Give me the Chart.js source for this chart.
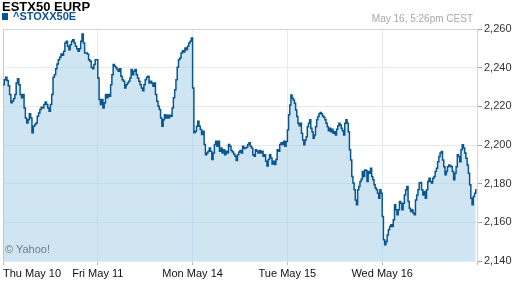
<!DOCTYPE html>
<html>
<head>
<meta charset="utf-8">
<script src="https://cdn.jsdelivr.net/npm/chart.js@4.4.0/dist/chart.umd.min.js"></script>
<style>
  html, body { margin: 0; padding: 0; background: #fff; }
  #wrap { position: relative; width: 512px; height: 288px; font-family: Arial, "Liberation Sans", sans-serif; }
  #chart { position: absolute; left: 0; top: 0; }
  .txt { position: absolute; white-space: nowrap; }
  #title { left: 2px; top: 0; font: bold 13px/13px Arial, "Liberation Sans", sans-serif; color: #000; }
  #swatch { position: absolute; left: 2px; top: 13px; width: 6px; height: 7px; background: #0b5394; }
  #symbol { left: 13px; top: 11px; font: bold 11px/11px Arial, "Liberation Sans", sans-serif; color: #0b5394; }
  #stamp { right: 39px; top: 14px; font: 10px/10px Arial, "Liberation Sans", sans-serif; color: #a8a8a8; }
  #credit { left: 5px; top: 244px; font: 11px/11px Arial, "Liberation Sans", sans-serif; color: #7a7a7a; }
</style>
</head>
<body>
<div id="wrap">
  <canvas id="chart" width="512" height="288"></canvas>
  <div class="txt" id="title">ESTX50 EURP</div>
  <div id="swatch"></div>
  <div class="txt" id="symbol">^STOXX50E</div>
  <div class="txt" id="stamp">May 16, 5:26pm CEST</div>
  <div class="txt" id="credit">© Yahoo!</div>
</div>
<script>
// ===== Data =====

const dayLabels = ['Thu May 10', 'Fri May 11', 'Mon May 14', 'Tue May 15', 'Wed May 16'];
const yMin = 2140;
const yMax = 2260;
const yStep = 20;

// Intraday index level, one array per session
const thuPrices = [
    2231.2, 2233.8, 2235.0, 2233.3, 2230.6, 2226.1, 2221.8, 2222.8, 2224.0, 2226.1,
    2232.1, 2234.3, 2231.2, 2226.1, 2224.4, 2226.1, 2219.2, 2214.0, 2211.4, 2213.1,
    2216.1, 2214.0, 2206.3, 2209.7, 2210.6, 2211.4, 2214.9, 2216.6, 2218.3, 2219.5,
    2219.2, 2220.9, 2222.3, 2220.9, 2219.2, 2217.5, 2220.9, 2226.1, 2235.0, 2236.4,
    2239.5, 2241.9, 2244.1, 2245.4, 2247.1, 2246.4, 2248.5, 2252.8, 2253.7, 2251.1,
    2249.3, 2251.9, 2253.7, 2254.5, 2252.8, 2251.1, 2249.8, 2248.5, 2249.8, 2253.7,
    2257.4, 2252.8, 2247.6, 2247.6, 2247.1, 2244.1, 2243.3, 2240.2, 2239.5, 2241.6,
    2244.1, 2244.1
];
const friPrices = [
    2234.7, 2223.5, 2220.9, 2223.5, 2219.2, 2221.8, 2226.1, 2224.4, 2226.1, 2225.2,
    2231.2, 2236.4, 2241.6, 2240.7, 2239.9, 2239.0, 2238.2, 2239.5, 2235.6, 2233.8,
    2233.0, 2229.5, 2231.2, 2232.1, 2233.0, 2234.7, 2239.0, 2236.4, 2238.2, 2239.0,
    2236.4, 2234.7, 2233.0, 2231.2, 2229.5, 2228.1, 2231.2, 2233.8, 2235.0, 2235.6,
    2232.1, 2233.0, 2232.1, 2230.4, 2232.1, 2226.1, 2222.6, 2220.1, 2218.3, 2214.0,
    2209.7, 2213.1, 2215.7, 2214.0, 2215.4, 2214.0, 2215.4, 2214.9, 2219.2, 2224.4,
    2228.6, 2233.8, 2240.2, 2244.1, 2245.0, 2247.6, 2248.8, 2248.1, 2250.2, 2249.3,
    2251.1, 2252.8, 2253.7, 2255.4
];
const monPrices = [
    2229.5, 2206.3, 2207.1, 2209.7, 2212.3, 2209.7, 2208.0, 2205.4, 2207.1, 2200.2,
    2195.0, 2195.9, 2196.8, 2198.5, 2196.8, 2192.5, 2195.9, 2200.2, 2202.0, 2199.4,
    2202.0, 2196.8, 2198.5, 2195.9, 2197.6, 2195.0, 2196.8, 2195.9, 2200.2, 2199.4,
    2197.1, 2196.4, 2195.4, 2194.2, 2192.0, 2195.0, 2196.4, 2197.1, 2195.9, 2199.4,
    2198.2, 2198.5, 2198.9, 2200.2, 2201.1, 2199.4, 2198.5, 2195.0, 2194.2, 2197.6,
    2196.8, 2195.9, 2197.1, 2195.9, 2196.8, 2194.2, 2195.0, 2191.6, 2189.1, 2192.5,
    2195.0, 2193.3, 2190.2, 2191.6, 2189.9, 2192.5, 2197.6, 2196.8, 2200.2, 2201.1,
    2200.2, 2202.0, 2199.4, 2201.8
];
const tuePrices = [
    2207.8, 2215.6, 2220.7, 2225.9, 2224.2, 2223.3, 2221.6, 2218.1, 2214.7, 2211.3,
    2209.9, 2211.3, 2206.1, 2202.6, 2200.1, 2202.6, 2204.3, 2209.5, 2211.3, 2213.0,
    2208.7, 2206.9, 2203.5, 2205.2, 2209.5, 2213.0, 2214.7, 2216.1, 2216.8, 2216.1,
    2215.0, 2214.4, 2213.0, 2211.3, 2209.5, 2207.4, 2208.7, 2206.9, 2208.2, 2206.1,
    2206.9, 2205.2, 2208.2, 2209.9, 2211.3, 2210.4, 2208.7, 2207.4, 2205.2, 2211.3,
    2213.0, 2211.3, 2206.9, 2197.5, 2192.3, 2183.7, 2180.3, 2176.8, 2171.6, 2169.1,
    2176.8, 2178.5, 2181.1, 2182.3, 2186.3, 2183.7, 2187.1, 2186.8, 2181.1, 2186.3,
    2185.4, 2188.0, 2183.7, 2182.0, 2179.4, 2177.7, 2176.8, 2175.1, 2172.5, 2176.8,
    2175.1
];
const wedPrices = [
    2163.0, 2151.0, 2148.4, 2150.1, 2153.5, 2156.1, 2157.8, 2158.7, 2157.8, 2161.3,
    2169.1, 2166.5, 2163.9, 2166.5, 2170.8, 2169.9, 2166.5, 2169.9, 2174.2, 2176.8,
    2178.5, 2170.8, 2167.3, 2165.6, 2166.5, 2164.8, 2163.9, 2171.6, 2174.2, 2176.8,
    2180.3, 2180.6, 2176.8, 2174.2, 2175.9, 2172.5, 2176.8, 2181.1, 2182.8, 2181.1,
    2180.3, 2182.8, 2183.7, 2186.3, 2188.0, 2191.4, 2194.0, 2195.8, 2196.6, 2192.3,
    2188.8, 2184.6, 2186.3, 2188.8, 2189.7, 2189.2, 2188.8, 2186.3, 2182.0, 2185.4,
    2188.8, 2194.9, 2194.0, 2191.4, 2197.5, 2200.1, 2198.4, 2195.8, 2193.2, 2189.7,
    2185.4, 2179.4, 2172.5, 2169.1, 2173.4, 2175.1, 2177.2
];

const sessions = [thuPrices, friPrices, monPrices, tuePrices, wedPrices];

// Spread each session evenly over its day slot on the x axis
const points = [];
sessions.forEach((prices, day) => {
    prices.forEach((value, i) => {
        points.push({ x: day + i / prices.length, y: value });
    });
});

// ===== Chart =====

const ctx = document.getElementById('chart').getContext('2d');
Chart.defaults.font.family = 'Arial, "Liberation Sans", sans-serif';
Chart.defaults.font.size = 11;

new Chart(ctx, {
    type: 'line',
    data: {
        datasets: [{
            data: points,
            borderColor: '#0a5690',
            borderWidth: 1.5,
            backgroundColor: 'rgba(160, 205, 230, 0.5)',
            fill: 'start',
            pointRadius: 0,
            tension: 0,
            stepped: true
        }]
    },
    options: {
        responsive: false,
        animation: false,
        layout: {
            padding: { left: 3, top: 29, right: 0, bottom: 0 }
        },
        plugins: {
            legend: { display: false },
            tooltip: { enabled: false }
        },
        scales: {
            x: {
                type: 'linear',
                min: 0,
                max: dayLabels.length,
                afterBuildTicks: (scale) => {
                    scale.ticks = [0, 1, 2, 3, 4, 5].map(v => ({ value: v }));
                },
                afterFit: (scale) => { scale.height = 27; },
                ticks: {
                    autoSkip: false,
                    maxRotation: 0,
                    align: 'inner',
                    padding: 2,
                    color: '#111',
                    font: { size: 11 },
                    callback: (value) => dayLabels[value] || ''
                },
                grid: {
                    color: (c) => c.index === 0 ? '#c8c8c8' : '#e3eaf2',
                    tickColor: '#b8b8b8',
                    tickLength: 4
                },
                border: { display: false }
            },
            y: {
                position: 'right',
                min: yMin,
                max: yMax,
                afterFit: (scale) => { scale.width = 35; },
                ticks: {
                    stepSize: yStep,
                    padding: 2,
                    color: '#333',
                    font: { size: 11 },
                    callback: (value) => value.toLocaleString('en-US')
                },
                grid: {
                    color: (c) => c.tick && c.tick.value === yMax ? '#d6d6d6' : '#e3eaf2',
                    tickColor: '#a0a0a0',
                    tickLength: 5
                },
                border: { display: true, color: '#d6d6d6' }
            }
        }
    }
});
</script>
</body>
</html>
